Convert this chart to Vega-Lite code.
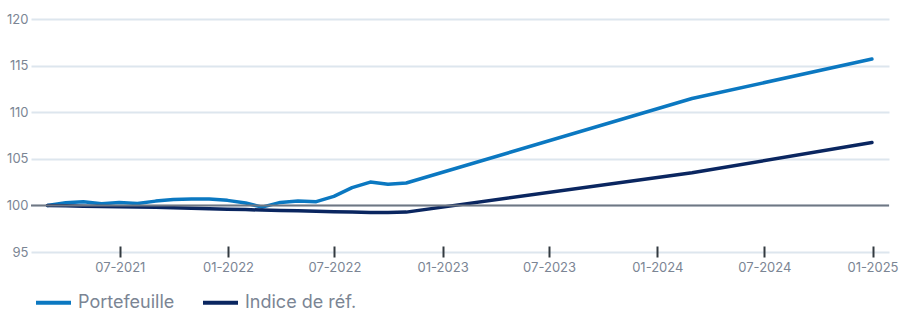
{
  "$schema": "https://vega.github.io/schema/vega-lite/v6.json",
  "width": 858,
  "height": 233,
  "autosize": {"type": "none"},
  "padding": {"left": 31, "top": 19, "right": 10, "bottom": 59},
  "config": {
    "view": {"stroke": null},
    "font": "Inter",
    "axis": {"labelFont": "Inter", "labelColor": "#7b8594", "labelFontSize": 13}
  },
  "layer": [
    {
      "data": {
        "values": [
          {"date": "2021-02-28", "serie": "Portefeuille", "value": 100.0},
          {"date": "2021-03-31", "serie": "Portefeuille", "value": 100.29},
          {"date": "2021-04-30", "serie": "Portefeuille", "value": 100.4},
          {"date": "2021-05-31", "serie": "Portefeuille", "value": 100.18},
          {"date": "2021-06-30", "serie": "Portefeuille", "value": 100.32},
          {"date": "2021-07-31", "serie": "Portefeuille", "value": 100.21},
          {"date": "2021-08-31", "serie": "Portefeuille", "value": 100.46},
          {"date": "2021-09-30", "serie": "Portefeuille", "value": 100.64},
          {"date": "2021-10-31", "serie": "Portefeuille", "value": 100.68},
          {"date": "2021-11-30", "serie": "Portefeuille", "value": 100.68},
          {"date": "2021-12-31", "serie": "Portefeuille", "value": 100.54},
          {"date": "2022-01-31", "serie": "Portefeuille", "value": 100.25},
          {"date": "2022-02-28", "serie": "Portefeuille", "value": 99.82},
          {"date": "2022-03-31", "serie": "Portefeuille", "value": 100.32},
          {"date": "2022-04-30", "serie": "Portefeuille", "value": 100.46},
          {"date": "2022-05-31", "serie": "Portefeuille", "value": 100.4},
          {"date": "2022-06-30", "serie": "Portefeuille", "value": 100.97},
          {"date": "2022-07-31", "serie": "Portefeuille", "value": 101.9},
          {"date": "2022-08-31", "serie": "Portefeuille", "value": 102.5},
          {"date": "2022-09-30", "serie": "Portefeuille", "value": 102.26},
          {"date": "2022-10-31", "serie": "Portefeuille", "value": 102.4},
          {"date": "2024-02-29", "serie": "Portefeuille", "value": 111.47},
          {"date": "2024-12-31", "serie": "Portefeuille", "value": 115.7},
          {"date": "2021-02-28", "serie": "Indice de réf.", "value": 100.0},
          {"date": "2021-03-31", "serie": "Indice de réf.", "value": 99.95},
          {"date": "2021-04-30", "serie": "Indice de réf.", "value": 99.9},
          {"date": "2021-05-31", "serie": "Indice de réf.", "value": 99.87},
          {"date": "2021-06-30", "serie": "Indice de réf.", "value": 99.85},
          {"date": "2021-07-31", "serie": "Indice de réf.", "value": 99.82},
          {"date": "2021-08-31", "serie": "Indice de réf.", "value": 99.8},
          {"date": "2021-09-30", "serie": "Indice de réf.", "value": 99.75},
          {"date": "2021-10-31", "serie": "Indice de réf.", "value": 99.7},
          {"date": "2021-11-30", "serie": "Indice de réf.", "value": 99.65},
          {"date": "2021-12-31", "serie": "Indice de réf.", "value": 99.6},
          {"date": "2022-01-31", "serie": "Indice de réf.", "value": 99.55},
          {"date": "2022-02-28", "serie": "Indice de réf.", "value": 99.5},
          {"date": "2022-03-31", "serie": "Indice de réf.", "value": 99.45},
          {"date": "2022-04-30", "serie": "Indice de réf.", "value": 99.42},
          {"date": "2022-05-31", "serie": "Indice de réf.", "value": 99.38},
          {"date": "2022-06-30", "serie": "Indice de réf.", "value": 99.33},
          {"date": "2022-07-31", "serie": "Indice de réf.", "value": 99.28},
          {"date": "2022-08-31", "serie": "Indice de réf.", "value": 99.25},
          {"date": "2022-09-30", "serie": "Indice de réf.", "value": 99.25},
          {"date": "2022-10-31", "serie": "Indice de réf.", "value": 99.28},
          {"date": "2024-02-29", "serie": "Indice de réf.", "value": 103.5},
          {"date": "2024-12-31", "serie": "Indice de réf.", "value": 106.74}
        ]
      },
      "mark": {"type": "line", "interpolate": "linear", "strokeWidth": 3.5, "strokeCap": "round", "strokeJoin": "round"},
      "encoding": {
        "x": {
          "field": "date",
          "type": "temporal",
          "scale": {"domain": ["2021-01-31", "2025-01-29"]},
          "axis": {
            "title": null,
            "format": "%m-%Y",
            "values": ["2021-07-01", "2022-01-01", "2022-07-01", "2023-01-01", "2023-07-01", "2024-01-01", "2024-07-01", "2025-01-01"],
            "domain": false,
            "grid": false,
            "ticks": true,
            "tickColor": "#333a40",
            "tickWidth": 2,
            "tickSize": 11,
            "offset": -6,
            "labelPadding": 4
          }
        },
        "y": {
          "field": "value",
          "type": "quantitative",
          "scale": {"domain": [95, 120], "nice": false, "zero": false},
          "axis": {
            "title": null,
            "values": [95, 100, 105, 110, 115, 120],
            "domain": false,
            "ticks": false,
            "labelPadding": 3,
            "grid": true,
            "gridColor": "#dde6ee",
            "gridWidth": 2
          }
        },
        "color": {
          "field": "serie",
          "type": "nominal",
          "scale": {"domain": ["Portefeuille", "Indice de réf."], "range": ["#0b78c1", "#0a2660"]},
          "legend": {
            "title": null,
            "orient": "none",
            "direction": "horizontal",
            "legendX": 3,
            "legendY": 264,
            "symbolType": "stroke",
            "symbolSize": 1225,
            "symbolStrokeWidth": 4,
            "labelFontSize": 18,
            "labelColor": "#7b8594",
            "labelFont": "Inter",
            "labelOffset": 5,
            "columnPadding": 20
          }
        }
      }
    },
    {
      "data": {"values": [{"ref": 100}]},
      "mark": {"type": "rule", "color": "#6e7783", "strokeWidth": 2},
      "encoding": {"y": {"field": "ref", "type": "quantitative"}}
    }
  ]
}
